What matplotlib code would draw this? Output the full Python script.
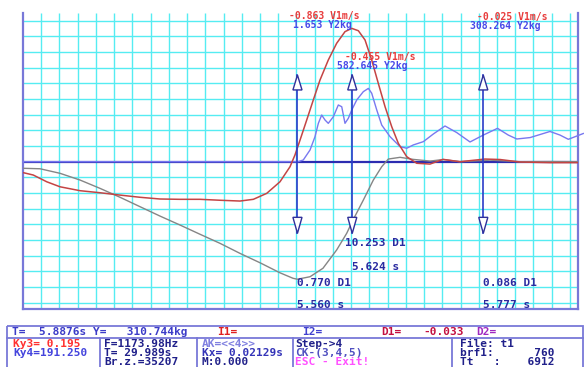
import matplotlib
matplotlib.use("Agg")
import matplotlib.pyplot as plt
from matplotlib.patches import Polygon, Rectangle

# Zeitfenster (s) und Rasterteilung
t_start = 5.2395
t_end = 5.8876
kx = 0.02129
y_lo, y_hi = -9.40, 9.51

# Kanal V1 (rot), Werte in Teilungen
red_t = [5.2399, 5.2515, 5.2672, 5.2827, 5.3061, 5.3294, 5.3528, 5.3761, 5.3995,
         5.4228, 5.4462, 5.4696, 5.4929, 5.5085, 5.5241, 5.5396, 5.5513, 5.5571,
         5.5630, 5.5708, 5.5785, 5.5863, 5.5960, 5.6058, 5.6155, 5.6234, 5.6311,
         5.6389, 5.6467, 5.6544, 5.6623, 5.6701, 5.6778, 5.6876, 5.6993, 5.7148,
         5.7300, 5.7498, 5.7790, 5.7966, 5.8199, 5.8549, 5.8876]
red_v = [-0.70, -0.85, -1.28, -1.60, -1.85, -1.98, -2.13, -2.27, -2.38,
         -2.40, -2.40, -2.46, -2.51, -2.40, -2.02, -1.28, -0.32, 0.43,
         1.38, 2.66, 3.94, 5.21, 6.49, 7.56, 8.30, 8.51, 8.36,
         7.77, 6.49, 5.00, 3.51, 2.23, 1.17, 0.32, -0.10, -0.15,
         0.15, 0.00, 0.17, 0.14, -0.02, -0.06, -0.06]

# Kanal D1 (grau)
gray_t = [5.2395, 5.2594, 5.2827, 5.3061, 5.3294, 5.3528, 5.3761, 5.3995, 5.4228,
          5.4462, 5.4696, 5.4929, 5.5163, 5.5396, 5.5548, 5.5600, 5.5747, 5.5898,
          5.6058, 5.6175, 5.6249, 5.6369, 5.6486, 5.6584, 5.6661, 5.6798, 5.6950,
          5.7148, 5.7300, 5.7498, 5.7849, 5.8199, 5.8549, 5.8876]
gray_v = [-0.42, -0.45, -0.74, -1.17, -1.70, -2.27, -2.87, -3.47, -4.04,
          -4.63, -5.21, -5.85, -6.45, -7.09, -7.44, -7.50, -7.34, -6.80,
          -5.63, -4.57, -3.72, -2.45, -1.17, -0.32, 0.17, 0.28, 0.15,
          0.04, 0.14, 0.00, 0.10, 0.00, 0.01, 0.00]

# Kanal Y2 (blau)
blue_t = [5.2395, 5.5606, 5.5668, 5.5747, 5.5805, 5.5844, 5.5883, 5.5922, 5.5960,
          5.6019, 5.6077, 5.6117, 5.6155, 5.6194, 5.6234, 5.6292, 5.6369, 5.6428,
          5.6467, 5.6526, 5.6584, 5.6681, 5.6798, 5.6876, 5.6953, 5.7070, 5.7187,
          5.7323, 5.7460, 5.7615, 5.7770, 5.7936, 5.8062, 5.8161, 5.8316, 5.8549,
          5.8666, 5.8763, 5.8938]
blue_v = [0.00, 0.00, 0.11, 0.75, 1.60, 2.45, 2.98, 2.66, 2.45,
          2.87, 3.62, 3.51, 2.45, 2.77, 3.30, 3.94, 4.47, 4.68,
          4.37, 3.30, 2.34, 1.60, 0.96, 0.86, 1.07, 1.28, 1.77,
          2.28, 1.86, 1.26, 1.70, 2.13, 1.70, 1.45, 1.54, 1.93,
          1.70, 1.43, 1.80]

# Cursor
cursor_t = [5.560, 5.624, 5.777]
cursor_v1 = ["-0.863", "-0.455", "-0.025"]
cursor_y2 = ["1.653", "582.645", "308.264"]
cursor_d1 = ["0.770", "10.253", "0.086"]

GRID = "#55ecf2"
FRAME = "#7878d8"
MONO = "DejaVu Sans Mono"

fig = plt.figure(figsize=(5.84, 3.67), dpi=100)
ax = fig.add_axes([23 / 584, 58 / 367, 555 / 584, 296.3 / 367])
ax.set_xlim(t_start, t_end)
ax.set_ylim(y_lo, y_hi)

n_div = int((t_end - t_start) / kx)
ax.vlines([t_start + k * kx for k in range(1, n_div + 1)], y_lo, y_hi,
          color=GRID, lw=1.0, zorder=1)
ax.hlines([k for k in range(-9, 10) if k != 0], t_start, t_end,
          color=GRID, lw=1.0, zorder=1)
ax.axhline(0, color="#2c2cb0", lw=1.6, zorder=2)

ax.plot(gray_t, gray_v, color="#858585", lw=1.0, zorder=3)
ax.plot(red_t, red_v, color="#c44444", lw=1.1, zorder=4)
ax.plot(blue_t, blue_v, color="#7878f0", lw=1.0, zorder=3, clip_on=False)

# Cursorlinien mit Pfeilspitzen
hw = 0.0053
for tc in cursor_t:
    ax.plot([tc, tc], [-4.57, 5.53], color="#2a3cc8", lw=1.2, zorder=5)
    ax.add_patch(Polygon([[tc, 5.53], [tc - hw, 4.58], [tc + hw, 4.58]],
                         closed=True, fc="white", ec="#30309a", lw=1.0, zorder=6))
    ax.add_patch(Polygon([[tc, -4.57], [tc - hw, -3.55], [tc + hw, -3.55]],
                         closed=True, fc="white", ec="#30309a", lw=1.0, zorder=6))

ax.set_xticks([])
ax.set_yticks([])
ax.spines["top"].set_visible(False)
for s in ["left", "right", "bottom"]:
    ax.spines[s].set_color(FRAME)
    ax.spines[s].set_linewidth(1.6)

# Overlay in Pixelkoordinaten fuer Texte und Statusleiste
ov = fig.add_axes([0, 0, 1, 1], zorder=10)
ov.set_xlim(0, 584)
ov.set_ylim(367, 0)
ov.axis("off")

def txt(s, x, y, c, fs=8):
    ov.text(x, y, s, color=c, fontsize=fs, family=MONO, fontweight="bold",
            ha="left", va="center")

RED = "#e83c3c"
BLUE = "#4848e8"
NAVY = "#2a2aa0"

# Werte an den Cursorn
top_pos = [(289.3, 16.3, 293.0, 25.2), (345.0, 56.7, 336.7, 65.7), (476.7, 16.7, 470.0, 26.0)]
bot_pos = [(296.7, 282.7, 296.7, 305.5), (345.0, 243.3, 351.7, 267.3), (483.3, 282.7, 483.3, 305.5)]
for i in range(3):
    xr, yr, xb, yb = top_pos[i]
    txt(cursor_v1[i] + " V1m/s", xr, yr, RED, 7)
    txt(cursor_y2[i] + " Y2kg", xb, yb, BLUE, 7)
    xd, yd, xs, ys = bot_pos[i]
    txt(cursor_d1[i] + " D1", xd, yd, NAVY)
    txt("%.3f s" % cursor_t[i], xs, ys, NAVY)

# Statusleiste
ov.add_patch(Rectangle((7.3, 326.3), 575.4, 45, fill=False, ec=FRAME, lw=1.3))
ov.plot([7.3, 582.7], [338.3, 338.3], color=FRAME, lw=1.3)
for xv in [100, 196.7, 292.7, 452.3]:
    ov.plot([xv, xv], [338.3, 367], color=FRAME, lw=1.3)

row1 = 331.8
txt("T=  5.8876s Y=   310.744kg", 11.7, row1, "#3c3cc8")
txt("I1=", 216.7, row1, "#e02020")
txt("I2=", 301.7, row1, "#4040d0")
txt("D1=", 381.7, row1, "#c41040")
txt("-0.033", 423.3, row1, "#c41040")
txt("D2=", 476.7, row1, "#a028c0")

r = [344.3, 353.3, 362.3]
txt("Ky3= 0.195", 13.3, r[0], "#ff3030")
txt("Ky4=191.250", 13.3, r[1], "#4444dd")
txt("F=1173.98Hz", 104, r[0], "#20208a")
txt("T= 29.989s", 104, r[1], "#20208a")
txt("Br.z.=35207", 104, r[2], "#20208a")
txt("AK=<<4>>", 201.7, r[0], "#8080e0")
txt("Kx= 0.02129s", 201.7, r[1], "#3434b8")
txt("M:0.000", 201.7, r[2], "#20208a")
txt("Step->4", 295, r[0], "#20208a")
txt("CK-(3,4,5)", 295, r[1], "#5050c0")
txt("ESC - Exit!", 295, r[2], "#ff50ff")
txt("File: t1", 460, r[0], "#20208a")
txt("brf1:      760", 460, r[1], "#20208a")
txt("Tt   :    6912", 460, r[2], "#20208a")

fig.savefig("out.png", dpi=100)
